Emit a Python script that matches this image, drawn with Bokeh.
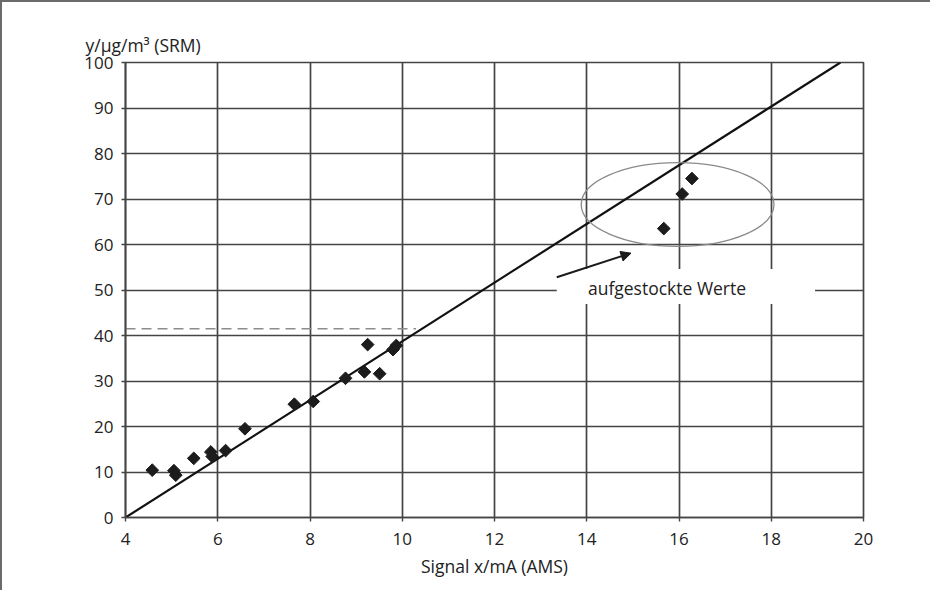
import math
from bokeh.plotting import figure
from bokeh.models import (FixedTicker, Range1d, BoxAnnotation, Arrow, NormalHead,
                          Label)
from bokeh.embed import file_html
from bokeh.resources import INLINE

# ---- data ----
signal_x = [4.58, 5.05, 5.09, 5.48, 5.85, 5.88, 6.17, 6.59, 7.66, 8.07,
            8.77, 9.18, 9.51, 9.25, 9.80, 9.87]
srm_y = [10.4, 10.3, 9.3, 13.0, 14.4, 13.4, 14.7, 19.5, 24.9, 25.5,
         30.6, 32.0, 31.6, 38.0, 36.9, 37.8]

spiked_x = [16.28, 16.07, 15.67]
spiked_y = [74.5, 71.1, 63.5]

fit_x = [4.0, 19.5]
fit_y = [0.0, 100.0]

limit_x = [4.0, 10.3]
limit_y = [41.5, 41.5]

x_ticks = [4, 6, 8, 10, 12, 14, 16, 18, 20]
y_ticks = [0, 10, 20, 30, 40, 50, 60, 70, 80, 90, 100]

ellipse_center = (15.97, 68.8)
ellipse_size = (4.18, 18.4)

arrow_start = (13.35, 52.8)
arrow_end = (14.96, 58.1)

note_text = "aufgestockte Werte"
note_pos = (15.74, 50.5)
note_box = (13.35, 18.95, 46.9, 54.6)  # left, right, bottom, top

FONT = "Open Sans"
INK = "#222222"
GRID = "#444444"

p = figure(width=930, height=590, output_backend="svg", toolbar_location=None,
           x_range=Range1d(4, 20), y_range=Range1d(0, 100),
           min_border_left=123, min_border_right=69,
           min_border_top=60, min_border_bottom=75,
           styles={"border-left": "2px solid #6a6a6a",
                   "border-top": "2px solid #6a6a6a"})

p.background_fill_color = "white"
p.border_fill_color = "white"
p.outline_line_color = GRID
p.outline_line_width = 1.7

p.title.text = "y/µg/m³ (SRM)"
p.title.align = "left"
p.title.offset = -40
p.title.text_font = FONT
p.title.text_font_size = "17.5px"
p.title.text_font_style = "normal"
p.title.text_color = INK
p.title.standoff = 11

for ax in (p.xaxis[0], p.yaxis[0]):
    ax.axis_line_color = GRID
    ax.axis_line_width = 1.7
    ax.major_tick_line_color = GRID
    ax.major_tick_line_width = 1.4
    ax.major_tick_out = 4
    ax.major_tick_in = 0
    ax.minor_tick_line_color = None
    ax.major_label_text_font = FONT
    ax.major_label_text_font_size = "17px"
    ax.major_label_text_color = INK

p.xaxis.ticker = FixedTicker(ticks=x_ticks)
p.yaxis.ticker = FixedTicker(ticks=y_ticks)
p.xaxis.major_label_standoff = 11
p.yaxis.major_label_standoff = 8
p.xaxis.axis_label = "Signal x/mA (AMS)"
p.xaxis.axis_label_text_font = FONT
p.xaxis.axis_label_text_font_size = "17.5px"
p.xaxis.axis_label_text_font_style = "normal"
p.xaxis.axis_label_text_color = INK
p.xaxis.axis_label_standoff = 6

p.grid.grid_line_color = GRID
p.grid.grid_line_width = 1.7
p.xgrid.ticker = FixedTicker(ticks=x_ticks)
p.ygrid.ticker = FixedTicker(ticks=y_ticks)

# dashed limit line
p.line(limit_x, limit_y, line_color="#8c8c8c", line_width=1.5, line_dash="10 6")

# calibration line
p.line(fit_x, fit_y, line_color="#111111", line_width=2.2)

# ellipse around spiked values
p.ellipse(x=[ellipse_center[0]], y=[ellipse_center[1]],
          width=[ellipse_size[0]], height=[ellipse_size[1]],
          fill_color=None, line_color="#8a8a8a", line_width=1.3)

# data points
p.scatter(signal_x, srm_y, marker="square", angle=math.pi / 4, size=9,
          fill_color="#1c1c1c", line_color="#1c1c1c")
p.scatter(spiked_x, spiked_y, marker="square", angle=math.pi / 4, size=9,
          fill_color="#1c1c1c", line_color="#1c1c1c")

# white box behind the note
p.add_layout(BoxAnnotation(left=note_box[0], right=note_box[1],
                           bottom=note_box[2], top=note_box[3],
                           fill_color="white", fill_alpha=1.0, line_color=None))

p.add_layout(Label(x=note_pos[0], y=note_pos[1], text=note_text,
                   text_font=FONT, text_font_size="17.5px", text_color=INK,
                   text_align="center", text_baseline="middle"))

p.add_layout(Arrow(x_start=arrow_start[0], y_start=arrow_start[1],
                   x_end=arrow_end[0], y_end=arrow_end[1],
                   line_color="#1a1a1a", line_width=2,
                   end=NormalHead(size=10, fill_color="#1a1a1a",
                                  line_color="#1a1a1a")))

open("out.html", "w").write(file_html(p, INLINE))
